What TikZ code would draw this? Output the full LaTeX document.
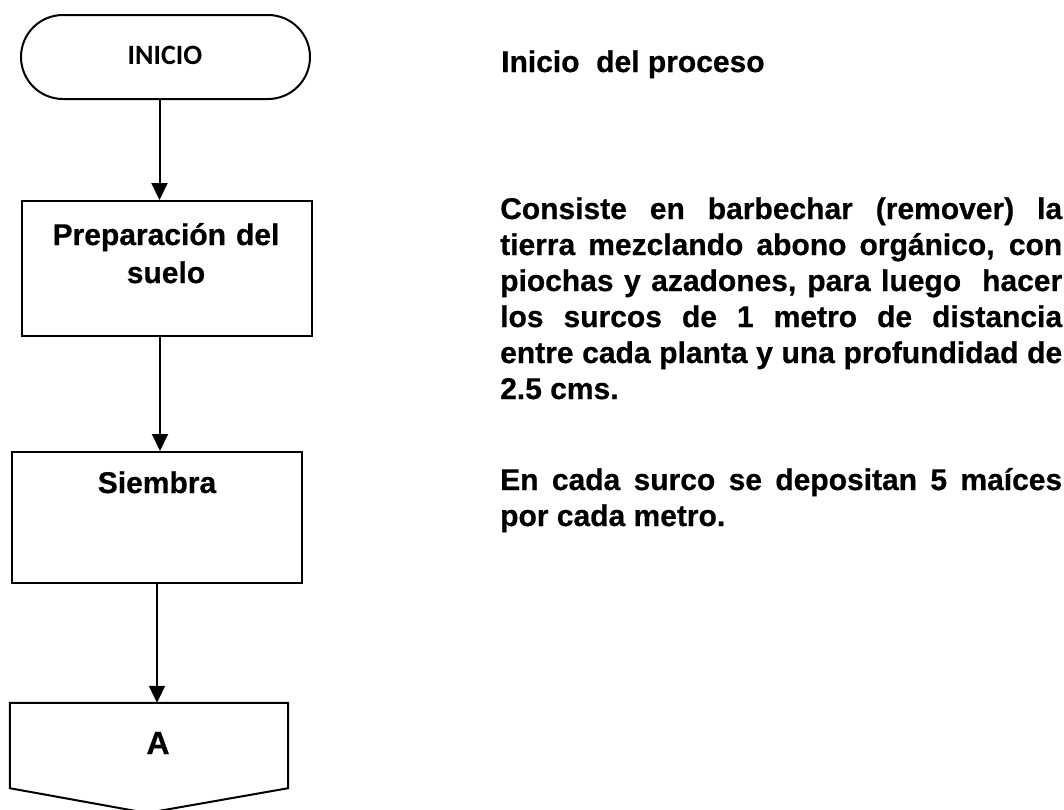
\documentclass[tikz,border=0pt]{standalone}
\usepackage{fontspec}
\setmainfont{Liberation Sans}[BoldFeatures={FakeBold=0.6}]
\newfontfamily\calib{Carlito}
\usetikzlibrary{arrows.meta}
\setlength\parindent{0pt}
\hyphenpenalty=10000
\exhyphenpenalty=10000
\begin{document}
\begin{tikzpicture}[x=1pt,y=-1pt,
  box/.style={draw=black, line width=2pt, rectangle, inner sep=0pt},
  lbl/.style={font=\bfseries\fontsize{30}{38}\selectfont, inner sep=0pt},
  para/.style={font=\bfseries\fontsize{30}{36}\selectfont, inner sep=0pt, text width=562pt, align=justify, anchor=base west},
  arr/.style={draw=black, line width=2pt, -{Triangle[length=17pt,width=16pt]}}]
\useasboundingbox (0,0) rectangle (1064,809);
\fill[white] (0,0) rectangle (1064,809);

% terminal
\node[box, rounded corners=42pt, minimum width=289pt, minimum height=84pt] (inicio) at (165.5,57) {};
\node[font=\calib\bfseries\fontsize{28}{34}\selectfont, inner sep=0pt, anchor=base] (inicioT) at (165,64) {INICIO};

% process boxes
\node[box, minimum width=290pt, minimum height=135pt] (prep) at (167,268.5) {};
\node[lbl, text width=280pt, align=center, anchor=base] (prepT) at (166,245) {Preparación del\\suelo};

\node[box, minimum width=290pt, minimum height=131pt] (siem) at (157,517.5) {};
\node[lbl, anchor=base] (siemT) at (157,493) {Siembra};

% off-page connector
\node[inner sep=0pt, minimum width=278pt, minimum height=85pt] (conA) at (149,745.5) {};
\coordinate (apex) at (147,813);
\draw[line width=2pt, line join=miter] (conA.north west) -- (conA.north east) -- (conA.south east) -- (apex) -- (conA.south west) -- cycle;
\node[font=\bfseries\fontsize{32}{38}\selectfont, anchor=base, inner sep=0pt] (AT) at (158,754) {A};

% connectors
\draw[arr] ([xshift=-6pt]inicio.south) -- ([xshift=-6pt]inicio.south |- prep.north);
\draw[arr] ([xshift=-7pt]prep.south) -- ([xshift=-7pt]prep.south |- siem.north);
\draw[arr] (siem.south) -- (siem.south |- conA.north);

% descriptions
\node[font=\bfseries\fontsize{30}{36}\selectfont, inner sep=0pt, anchor=base west] (t0) at (501,72) {Inicio \ del proceso};
\node[para] (t1) at (500,219) {Consiste en barbechar (remover) la\linebreak tierra mezclando abono orgánico, con\linebreak piochas y azadones, para luego \ hacer\linebreak los surcos de 1 metro de distancia\linebreak entre cada planta y una profundidad de\linebreak 2.5 cms.};
\node[para] (t2) at (500,490) {En cada surco se depositan 5 maíces\linebreak por cada metro.};
\end{tikzpicture}
\end{document}
